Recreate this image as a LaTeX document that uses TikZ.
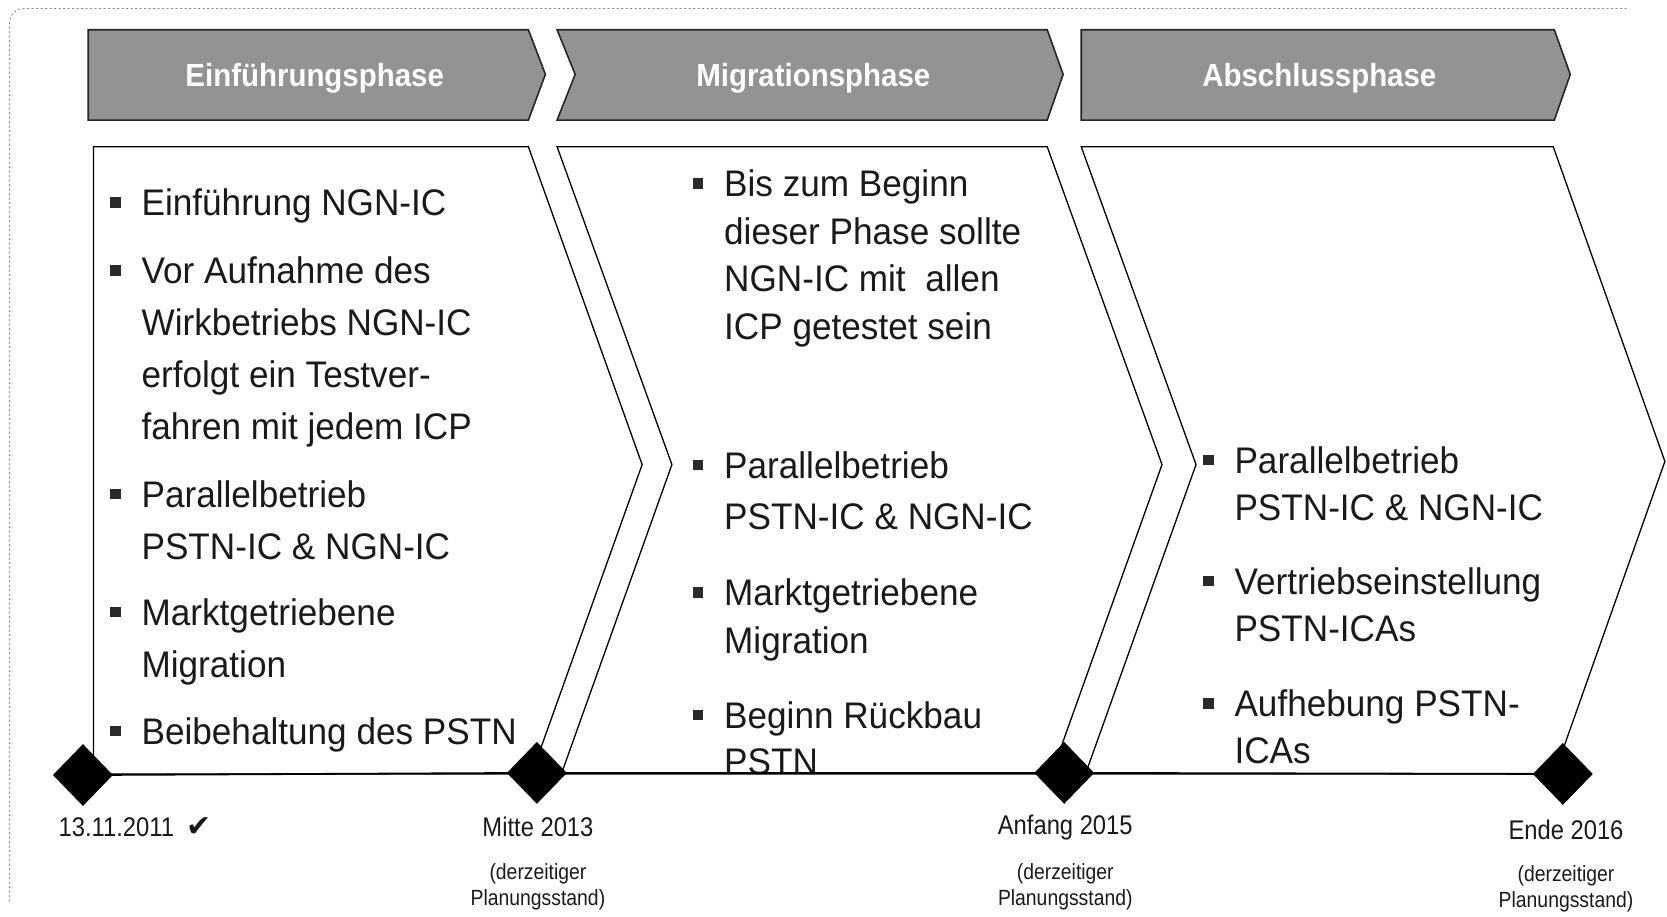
\documentclass[tikz,border=0pt]{standalone}
\usepackage{fontspec}
\setmainfont{Liberation Sans}
\newfontfamily\bodyfont[FakeStretch=0.95]{Liberation Sans}
\newfontfamily\headfont[FakeStretch=0.92]{Liberation Sans}
\newfontfamily\labfont[FakeStretch=0.88]{Liberation Sans}
\newfontfamily\symfont{DejaVu Sans}
\usetikzlibrary{shapes.geometric}
\definecolor{txt}{HTML}{1A1A1A}
\definecolor{headgray}{HTML}{939393}
\definecolor{bulc}{HTML}{2A2A2A}
\newcommand\bul{\llap{\textcolor{bulc}{\rule[8bp]{10.5bp}{10.5bp}}\hspace{21bp}}}
\tikzset{
  item/.style={anchor=base west, inner sep=0pt, text=txt,
    font=\bodyfont\fontsize{37bp}{40bp}\selectfont},
  headtxt/.style={inner sep=0pt, text=white,
    font=\headfont\bfseries\fontsize{32bp}{36bp}\selectfont},
  headshape/.style={fill=headgray, draw=black!85, line width=1.6bp, line join=miter},
  bodyshape/.style={fill=white, draw=black, line width=1.3bp, line join=miter},
  ms/.style={shape=diamond, fill=black, draw=none, inner sep=0pt,
    minimum width=60bp, minimum height=62bp},
  datelab/.style={inner sep=0pt, text=txt, font=\labfont\fontsize{27bp}{30bp}\selectfont},
  sublab/.style={inner sep=0pt, text=txt, align=center,
    font=\labfont\fontsize{22bp}{25.5bp}\selectfont},
}
\begin{document}
\begin{tikzpicture}[x=1.0631bp,y=-1.0631bp]
\useasboundingbox (0,0) rectangle (1568,862);
% scan frame remnants
\draw[black!45, line width=0.9bp, dash pattern=on 2bp off 2.5bp, rounded corners=14]
  (9,848) -- (9,8) -- (1532,8);

% header chevrons
\draw[headshape] (83,28) -- (497,28) -- (513,70) -- (497,113) -- (83,113) -- cycle;
\draw[headshape] (524,28) -- (985,28) -- (1000,70) -- (985,113) -- (524,113) -- (541,70) -- cycle;
\draw[headshape] (1017,28) -- (1462,28) -- (1477,70) -- (1462,113) -- (1017,113) -- cycle;
\node[headtxt] (h1) at (296,74) {Einführungsphase};
\node[headtxt] (h2) at (765,74) {Migrationsphase};
\node[headtxt] (h3) at (1241,74) {Abschlussphase};

% body chevrons
\draw[bodyshape] (88,728) -- (88,138) -- (497,138) -- (604,437) -- (500,728) -- cycle;
\draw[bodyshape] (528,728) -- (632,437) -- (524,138) -- (985,138) -- (1093,437) -- (989,728) -- cycle;
\draw[bodyshape] (1021,728) -- (1125,437) -- (1017,138) -- (1461,138) -- (1566,434) -- (1462,728) -- cycle;

% column 1
\node[item] (c1a) at (133,203) {\vtop{\baselineskip=52bp
  \hbox{\bul Einführung NGN-IC}}};
\node[item] (c1b) at (133,267) {\vtop{\baselineskip=52bp
  \hbox{\bul Vor Aufnahme des}\hbox{Wirkbetriebs NGN-IC}\hbox{erfolgt ein Testver-}\hbox{fahren mit jedem ICP}}};
\node[item] (c1c) at (133,477) {\vtop{\baselineskip=52bp
  \hbox{\bul Parallelbetrieb}\hbox{PSTN-IC \& NGN-IC}}};
\node[item] (c1d) at (133,588) {\vtop{\baselineskip=52bp
  \hbox{\bul Marktgetriebene}\hbox{Migration}}};
\node[item] (c1e) at (133,700) {\vtop{\baselineskip=52bp
  \hbox{\bul Beibehaltung des PSTN}}};

% column 2
\node[item] (c2a) at (681,185) {\vtop{\baselineskip=47.5bp
  \hbox{\bul Bis zum Beginn}\hbox{dieser Phase sollte}\hbox{NGN-IC mit\ \ allen}\hbox{ICP getestet sein}}};
\node[item] (c2b) at (681,450) {\vtop{\baselineskip=51bp
  \hbox{\bul Parallelbetrieb}\hbox{PSTN-IC \& NGN-IC}}};
\node[item] (c2c) at (681,570) {\vtop{\baselineskip=47.5bp
  \hbox{\bul Marktgetriebene}\hbox{Migration}}};
\node[item] (c2d) at (681,685) {\vtop{\baselineskip=46bp
  \hbox{\bul Beginn Rückbau}\hbox{PSTN}}};

% column 3
\node[item] (c3a) at (1161,445) {\vtop{\baselineskip=47bp
  \hbox{\bul Parallelbetrieb}\hbox{PSTN-IC \& NGN-IC}}};
\node[item] (c3b) at (1161,559) {\vtop{\baselineskip=47bp
  \hbox{\bul Vertriebseinstellung}\hbox{PSTN-ICAs}}};
\node[item] (c3c) at (1161,674) {\vtop{\baselineskip=47bp
  \hbox{\bul Aufhebung PSTN-}\hbox{ICAs}}};

% milestones
\node[ms] (d1) at (78,729) {};
\node[ms] (d2) at (505,727) {};
\node[ms] (d3) at (1001,727) {};
\node[ms] (d4) at (1470,728) {};
\draw[black, line width=1.8bp] (d1.center) -- (d2.center) -- (d3.center) -- (d4.center);

% labels
\node[datelab, anchor=west] (l1) at (55,778) {13.11.2011\hspace{12bp}{\symfont\fontsize{30bp}{32bp}\selectfont ✔}};
\node[datelab] (l2) at (506,778) {Mitte 2013};
\node[sublab] (s2) at (506,834) {(derzeitiger\\Planungsstand)};
\node[datelab] (l3) at (1002,778) {Anfang 2015};
\node[sublab] (s3) at (1002,834) {(derzeitiger\\Planungsstand)};
\node[datelab] (l4) at (1473,781) {Ende 2016};
\node[sublab] (s4) at (1473,836) {(derzeitiger\\Planungsstand)};
\end{tikzpicture}
\end{document}
